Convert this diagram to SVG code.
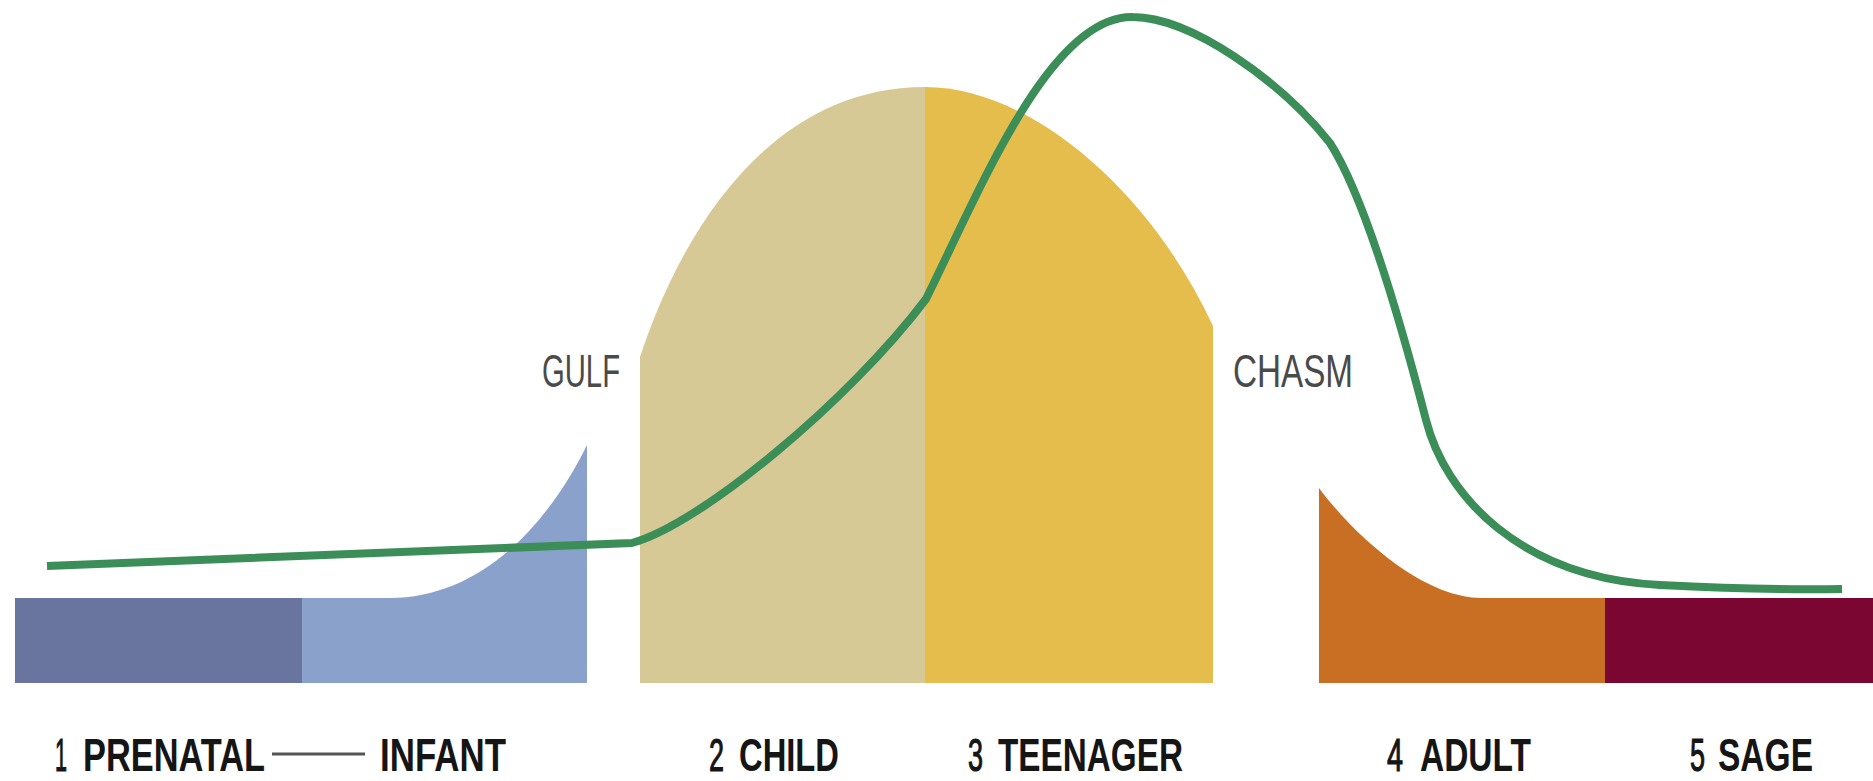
<svg xmlns="http://www.w3.org/2000/svg" width="1873" height="781" viewBox="0 0 1873 781">
  <style>
    .num { font-family: "Liberation Sans", Arial, sans-serif; font-weight: 400; font-size: 47px; fill: #151515; stroke: #151515; stroke-width: 1.2px; }
    .word { font-family: "Liberation Sans", Arial, sans-serif; font-weight: 700; font-size: 47px; fill: #151515; }
    .gap { font-family: "Liberation Sans", Arial, sans-serif; font-weight: 400; font-size: 47px; fill: #4a4a4a; }
    .curve { fill: none; stroke: #3b8e57; stroke-width: 8; stroke-linejoin: round; stroke-linecap: butt; }
  </style>
  <rect width="1873" height="781" fill="#ffffff"/>

  <g id="prenatal">
    <rect x="15" y="598" width="287" height="85" fill="#69759e"/>
    <text class="num" x="55" y="771" textLength="12" lengthAdjust="spacingAndGlyphs">1</text>
    <text class="word" x="83" y="771" textLength="182" lengthAdjust="spacingAndGlyphs">PRENATAL</text>
  </g>

  <g id="infant">
    <path d="M302,598 H390 C470,598 540,540 587,445 V683 H302 Z" fill="#8aa2cb"/>
    <line x1="272" y1="754" x2="365" y2="754" stroke="#555555" stroke-width="3"/>
    <text class="word" x="380" y="771" textLength="126" lengthAdjust="spacingAndGlyphs">INFANT</text>
  </g>

  <g id="gulf">
    <text class="gap" x="542" y="387" textLength="78" lengthAdjust="spacingAndGlyphs">GULF</text>
  </g>

  <g id="child">
    <path d="M640,683 V357 C675,250 760,87 925,87 V683 Z" fill="#d7c996"/>
    <text class="num" x="709" y="771" textLength="15" lengthAdjust="spacingAndGlyphs">2</text>
    <text class="word" x="739" y="771" textLength="100" lengthAdjust="spacingAndGlyphs">CHILD</text>
  </g>

  <g id="teenager">
    <path d="M925,683 V87 C1030,87 1150,190 1213,326 V683 Z" fill="#e5bd4d"/>
    <text class="num" x="968" y="771" textLength="15" lengthAdjust="spacingAndGlyphs">3</text>
    <text class="word" x="998" y="771" textLength="185" lengthAdjust="spacingAndGlyphs">TEENAGER</text>
  </g>

  <g id="chasm">
    <text class="gap" x="1233" y="387" textLength="120" lengthAdjust="spacingAndGlyphs">CHASM</text>
  </g>

  <g id="adult">
    <path d="M1319,683 V488 C1350,530 1420,598 1482,598 H1605 V683 Z" fill="#c96f23"/>
    <text class="num" x="1387" y="771" textLength="16" lengthAdjust="spacingAndGlyphs">4</text>
    <text class="word" x="1420" y="771" textLength="111" lengthAdjust="spacingAndGlyphs">ADULT</text>
  </g>

  <g id="sage">
    <rect x="1605" y="598" width="268" height="85" fill="#7b0631"/>
    <text class="num" x="1690" y="771" textLength="15" lengthAdjust="spacingAndGlyphs">5</text>
    <text class="word" x="1718" y="771" textLength="95" lengthAdjust="spacingAndGlyphs">SAGE</text>
  </g>

  <g id="connectors">
    <path class="curve" d="M47,566 L632,543 C700,525 850,400 926,299 C980,190 1050,15 1133,17 C1190,17 1280,80 1330,143 C1360,190 1395,300 1426,420 C1445,495 1520,578 1660,585 C1720,588 1790,590 1842,589"/>
  </g>
</svg>
